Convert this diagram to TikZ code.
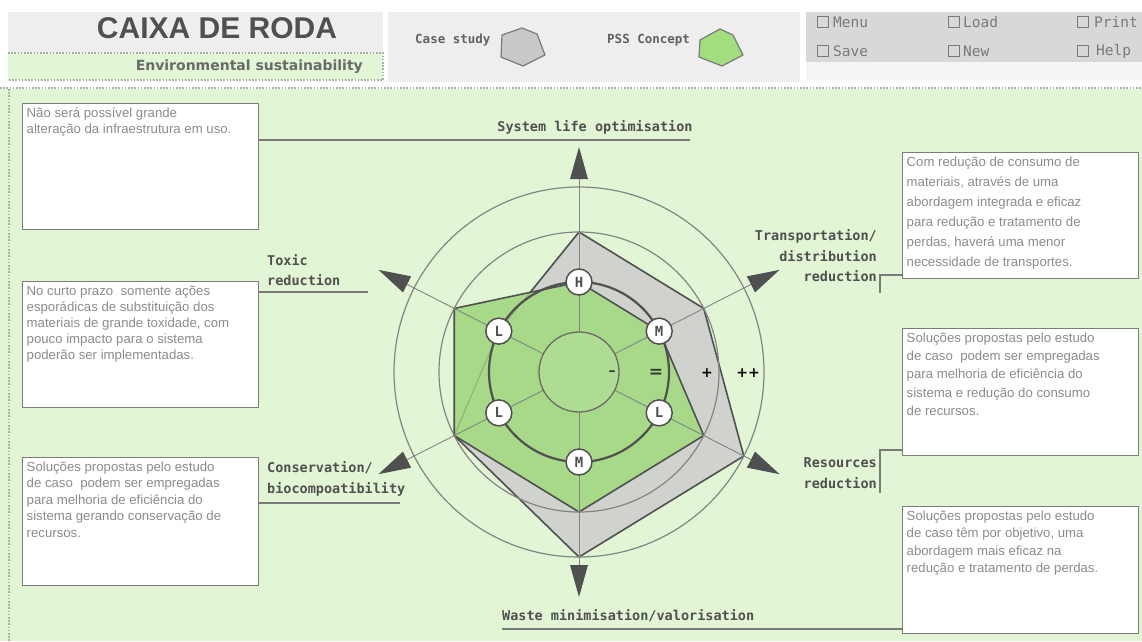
\documentclass[tikz,border=0pt]{standalone}
\usepackage{fontspec}
\setmainfont{Liberation Sans}
\newfontfamily\monofont{DejaVu Sans Mono}
\newfontfamily\widesans{DejaVu Sans}
\usetikzlibrary{calc}

\definecolor{pagegreen}{HTML}{E2F5D5}
\definecolor{pssgreen}{HTML}{A7D988}
\definecolor{legendgreen}{HTML}{A3DE7E}
\definecolor{casegray}{HTML}{D0D2CD}
\definecolor{legendgray}{HTML}{C9C9C9}
\definecolor{panelgray}{HTML}{EEEEEE}
\definecolor{menugray}{HTML}{D8D8D8}
\definecolor{ink}{HTML}{505050}
\definecolor{softink}{HTML}{7A7A7A}
\definecolor{notegray}{HTML}{8C8C8C}
\definecolor{framegray}{HTML}{7C7C7C}
\definecolor{circlegray}{HTML}{848484}
\definecolor{dotgray}{HTML}{ABB5A6}

% text of a comment box: height, line spacing, lines
\newcommand{\notetext}[3]{\parbox[t][#1][t]{228pt}{\fontsize{13.2}{#2}\selectfont\raggedright #3}}

\begin{document}
\begin{tikzpicture}[x=1pt,y=-1pt,
  notebox/.style={draw=framegray, fill=white, line width=1.4pt, inner sep=4pt, anchor=north west, text=notegray},
  axislabel/.style={font=\monofont\bfseries\fontsize{13.5}{20.5}\selectfont, text=ink, inner sep=0pt},
  link/.style={draw=softink, line width=1.4pt},
  dots/.style={draw=dotgray, line width=1.6pt, dash pattern=on 1.6pt off 1.6pt},
  gauge/.style={draw=circlegray, line width=1.2pt},
  axisline/.style={draw=circlegray, line width=0.9pt},
  arrowtip/.style={fill=ink},
  grade/.style={circle, draw=ink, fill=white, line width=1.5pt, minimum size=26pt, inner sep=0pt,
    font=\monofont\bfseries\fontsize{14}{14}\selectfont, text=ink},
  scoremark/.style={font=\widesans\bfseries\fontsize{14}{14}\selectfont, text=black, inner sep=0pt},
  checkbox/.style={draw=softink, line width=1.1pt, minimum size=11pt, inner sep=0pt},
  menuitem/.style={font=\monofont\fontsize{14.5}{15}\selectfont, text=softink, inner sep=0pt, anchor=west},
  legendlabel/.style={font=\monofont\bfseries\fontsize{12.5}{13}\selectfont, text=ink!90, inner sep=0pt, anchor=west},
]
\useasboundingbox (0,0) rectangle (1142,641);
\fill[white] (0,0) rectangle (1142,641);

% ---------- header ----------
\fill[panelgray] (8,12) rectangle (383,53);
\fill[pagegreen] (8,53) rectangle (383,80);
\draw[dots] (8,53) -- (383,53) -- (383,80) -- (8,80);
\fill[panelgray] (388,12) rectangle (800,82);
\fill[menugray] (806,12) rectangle (1142,62);
\fill[panelgray!60!white] (806,62) rectangle (1142,80);

\node[font=\bfseries\fontsize{30}{31}\selectfont, text=ink, inner sep=0pt] (title) at (217,28) {CAIXA DE RODA};
\node[font=\widesans\bfseries\fontsize{14}{14}\selectfont, text=ink!85, inner sep=0pt, anchor=east] (theme) at (363,67) {Environmental sustainability};

\node[legendlabel] (caseLbl) at (415,40) {Case study};
\filldraw[fill=legendgray, draw=softink, line width=1.2pt, line join=round]
  (502,35) -- (522,28) -- (537,34) -- (545,55) -- (523,66) -- (501,57) -- cycle;
\node[legendlabel] (pssLbl) at (607,40) {PSS Concept};
\filldraw[fill=legendgreen, draw=softink, line width=1.2pt, line join=round]
  (700,40) -- (720,29) -- (733,35) -- (743,55) -- (722,66) -- (699,57) -- cycle;

% menu
\node[checkbox] (cbMenu)  at (823,22) {};
\node[menuitem] (mMenu)  at (833,22) {Menu};
\node[checkbox] (cbLoad)  at (954,22) {};
\node[menuitem] (mLoad)  at (963,22) {Load};
\node[checkbox] (cbPrint) at (1083,22) {};
\node[menuitem] (mPrint) at (1094,22) {Print};
\node[checkbox] (cbSave)  at (823,51) {};
\node[menuitem] (mSave)  at (833,51) {Save};
\node[checkbox] (cbNew)   at (954,51) {};
\node[menuitem] (mNew)   at (963,51) {New};
\node[checkbox] (cbHelp)  at (1083,51) {};
\node[menuitem] (mHelp)  at (1096,51) {Help};

% ---------- working area ----------
\fill[pagegreen] (0,89) rectangle (1142,641);
\draw[dots] (0,88) -- (1142,88);
\draw[dots] (9,89) -- (9,641);

% ---------- radar ----------
\coordinate (C) at (579,372);

% case study profile
\filldraw[fill=casegray, draw=ink, line width=1.6pt, line join=round]
  ($(C)+(-90:140)$) -- ($(C)+(-27:140)$) -- ($(C)+(27:185)$) -- ($(C)+(90:185)$)
  -- ($(C)+(153:140)$) -- ($(C)+(207:90)$) -- cycle;
% PSS concept profile
\filldraw[fill=pssgreen, draw=ink, line width=1.6pt, line join=round]
  ($(C)+(-90:90)$) -- ($(C)+(-27:90)$) -- ($(C)+(27:140)$) -- ($(C)+(90:140)$)
  -- ($(C)+(153:140)$) -- ($(C)+(207:140)$) -- cycle;
% case study edges seen through the concept area
\draw[ink, opacity=0.3, line width=1pt] ($(C)+(153:140)$) -- ($(C)+(207:90)$) -- ($(C)+(-90:140)$);

% scale rings
\draw[gauge] (C) circle[radius=140];
\draw[gauge] (C) circle[radius=185];
\draw[draw=ink, line width=2.2pt] (C) circle[radius=90];

% axes with arrow heads
\foreach \a in {-90,-27,27,90,153,207} {
  \draw[axisline] ($(C)+(\a:40)$) -- ($(C)+(\a:195)$);
  \fill[arrowtip] ($(C)+(\a:225)$) -- ($(C)+(\a:193)+(\a+90:9)$) -- ($(C)+(\a:193)+(\a-90:9)$) -- cycle;
}
\filldraw[fill=pssgreen!92!white, draw=ink!85, line width=1.3pt] (C) circle[radius=40];

% grades on the middle ring
\node[grade] (gLife)  at ($(C)+(-90:90)$) {H};
\node[grade] (gTrans) at ($(C)+(-27:90)$) {M};
\node[grade] (gRes)   at ($(C)+(27:90)$)  {L};
\node[grade] (gWaste) at ($(C)+(90:90)$)  {M};
\node[grade] (gCons)  at ($(C)+(153:90)$) {L};
\node[grade] (gToxic) at ($(C)+(207:90)$) {L};

% scale marks
\node[scoremark, text=ink!70!black] (sMinus) at (612,373) {–};
\node[scoremark, text=ink!70!black, font=\widesans\bfseries\fontsize{17}{17}\selectfont] (sEqual) at (656,373) {=};
\node[scoremark] (sPlus) at (707,373) {+};
\node[scoremark] (sPlusPlus) at (748,373) {++};

% ---------- axis labels ----------
\node[axislabel] (lLife) at (595,127) {System life optimisation};
\node[axislabel, align=left, anchor=west] (lToxic) at (267,270) {Toxic\\reduction};
\node[axislabel, align=left, anchor=west] (lCons) at (267,479) {Conservation/\\biocompoatibility};
\node[axislabel, align=right, anchor=east] (lTrans) at (877,256) {Transportation/\\distribution\\reduction};
\node[axislabel, align=right, anchor=east] (lRes) at (877,473) {Resources\\reduction};
\node[axislabel, anchor=west] (lWaste) at (502,616) {Waste minimisation/valorisation};

% ---------- comment boxes ----------
\node[notebox] (nLife) at (22,103) {\notetext{118pt}{16}{Não será possível grande\\alteração da infraestrutura em uso.}};
\node[notebox] (nToxic) at (22,281) {\notetext{118pt}{16}{No curto prazo\ \ somente ações\\esporádicas de substituição dos\\materiais de grande toxidade, com\\pouco impacto para o sistema\\poderão ser implementadas.}};
\node[notebox] (nCons) at (22,457) {\notetext{120pt}{16.5}{Soluções propostas pelo estudo\\de caso\ \ podem ser empregadas\\para melhoria de eficiência do\\sistema gerando conservação de\\recursos.}};
\node[notebox] (nTrans) at (902,152) {\notetext{118pt}{20}{Com redução de consumo de\\materiais, através de uma\\abordagem integrada e eficaz\\para redução e tratamento de\\perdas, haverá uma menor\\necessidade de transportes.}};
\node[notebox] (nRes) at (902,328) {\notetext{119pt}{18.3}{Soluções propostas pelo estudo\\de caso\ \ podem ser empregadas\\para melhoria de eficiência do\\sistema e redução do consumo\\de recursos.}};
\node[notebox] (nWaste) at (902,506) {\notetext{119pt}{17.4}{Soluções propostas pelo estudo\\de caso têm por objetivo, uma\\abordagem mais eficaz na\\redução e tratamento de perdas.}};

% ---------- connectors ----------
\coordinate (eLife) at (690,140);
\coordinate (eToxic) at (368,292);
\coordinate (eCons) at (400,503);
\coordinate (eTrans) at (880,293);
\coordinate (eRes) at (880,493);
\coordinate (eWaste) at (502,629);
\draw[link] (nLife.east |- eLife) -- (eLife);
\draw[link] (nToxic.east |- eToxic) -- (eToxic);
\draw[link] (nCons.east |- eCons) -- (eCons);
\draw[link] (nTrans.west |- 0,275) -- (880,275) -- (eTrans);
\draw[link] (nRes.west |- 0,450) -- (880,450) -- (eRes);
\draw[link] (nWaste.west |- eWaste) -- (eWaste);
\end{tikzpicture}
\end{document}
